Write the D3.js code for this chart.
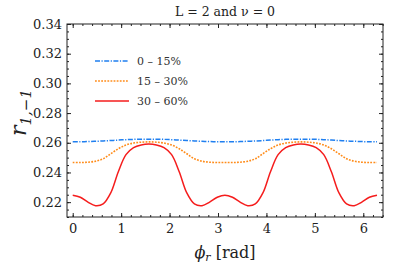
<!DOCTYPE html>
<html>
<head>
<meta charset="utf-8">
<script src="https://cdn.jsdelivr.net/npm/d3@7"></script>
<style>
  body { margin: 0; background: #fff; }
  svg { display: block; font-family: "DejaVu Serif", serif; }
  .axis path { display: none; }
  .axis line { stroke: #222; }
  .axis text { font-size: 13px; fill: #222; font-family: "DejaVu Serif", serif; }
</style>
</head>
<body>
<svg width="407" height="265"></svg>
<script>
// phi_r in rad
var phi = [0, 0.157, 0.314, 0.471, 0.628, 0.785, 0.942, 1.100, 1.257, 1.414, 1.571,
           1.728, 1.885, 2.042, 2.199, 2.356, 2.513, 2.670, 2.827, 2.985, 3.142,
           3.299, 3.456, 3.613, 3.770, 3.927, 4.084, 4.241, 4.398, 4.555, 4.712,
           4.869, 5.027, 5.184, 5.341, 5.498, 5.655, 5.812, 5.969, 6.126, 6.283];

var r0to15 = [0.2607, 0.2607, 0.2608, 0.2610, 0.2612, 0.2615, 0.2618, 0.2621, 0.2623, 0.2624, 0.2624,
              0.2624, 0.2623, 0.2621, 0.2618, 0.2615, 0.2612, 0.2610, 0.2608, 0.2607, 0.2607,
              0.2607, 0.2608, 0.2610, 0.2612, 0.2615, 0.2618, 0.2621, 0.2623, 0.2624, 0.2624,
              0.2624, 0.2623, 0.2621, 0.2618, 0.2615, 0.2612, 0.2610, 0.2608, 0.2607, 0.2607];

var r15to30 = [0.2467, 0.2467, 0.2469, 0.2476, 0.2492, 0.2526, 0.2560, 0.2585, 0.2598, 0.2604, 0.2606,
               0.2604, 0.2598, 0.2585, 0.2560, 0.2526, 0.2492, 0.2476, 0.2469, 0.2467, 0.2467,
               0.2467, 0.2469, 0.2476, 0.2492, 0.2526, 0.2560, 0.2585, 0.2598, 0.2604, 0.2606,
               0.2604, 0.2598, 0.2585, 0.2560, 0.2526, 0.2492, 0.2476, 0.2469, 0.2467, 0.2467];

var r30to60 = [0.2247, 0.2233, 0.2200, 0.2176, 0.2188, 0.2262, 0.2405, 0.2520, 0.2567, 0.2585, 0.2591,
               0.2585, 0.2567, 0.2520, 0.2405, 0.2262, 0.2188, 0.2176, 0.2200, 0.2233, 0.2247,
               0.2233, 0.2200, 0.2176, 0.2188, 0.2262, 0.2405, 0.2520, 0.2567, 0.2585, 0.2591,
               0.2585, 0.2567, 0.2520, 0.2405, 0.2262, 0.2188, 0.2176, 0.2200, 0.2233, 0.2247];

var xTicks = [0, 1, 2, 3, 4, 5, 6];
var yTicks = [0.22, 0.24, 0.26, 0.28, 0.30, 0.32, 0.34];
var seriesNames = ["0 \u2013 15%", "15 \u2013 30%", "30 \u2013 60%"];

var series = [
  { name: seriesNames[0], values: r0to15, color: "#1f7ff0", dash: "5,1.5,1.2,1.5", width: 1.5 },
  { name: seriesNames[1], values: r15to30, color: "#ff8c1a", dash: "1.8,1.3", width: 1.6 },
  { name: seriesNames[2], values: r30to60, color: "#f51d1d", dash: null, width: 1.5 }
];

var margin = {top: 24, right: 24, bottom: 48, left: 67};
var width = 407 - margin.left - margin.right;
var height = 265 - margin.top - margin.bottom;

var svg = d3.select("svg");
var g = svg.append("g")
    .attr("transform", "translate(" + margin.left + "," + margin.top + ")");

var x = d3.scaleLinear().domain([-0.118, 6.407]).range([0, width]);
var y = d3.scaleLinear().domain([0.21, 0.34]).range([height, 0]);

var xMinor = d3.range(0, 6.41, 0.2);
var yMinor = d3.range(0.21, 0.3401, 0.005);

// minor ticks, all four sides
g.append("g").attr("class", "axis").attr("transform", "translate(0," + height + ")")
    .call(d3.axisBottom(x).tickValues(xMinor).tickSize(-2).tickFormat(""));
g.append("g").attr("class", "axis")
    .call(d3.axisTop(x).tickValues(xMinor).tickSize(-2).tickFormat(""));
g.append("g").attr("class", "axis")
    .call(d3.axisLeft(y).tickValues(yMinor).tickSize(-2).tickFormat(""));
g.append("g").attr("class", "axis").attr("transform", "translate(" + width + ",0)")
    .call(d3.axisRight(y).tickValues(yMinor).tickSize(-2).tickFormat(""));

// major ticks
g.append("g").attr("class", "axis").attr("transform", "translate(0," + height + ")")
    .call(d3.axisBottom(x).tickValues(xTicks).tickSize(-4).tickPadding(7).tickFormat(d3.format("d")));
g.append("g").attr("class", "axis")
    .call(d3.axisTop(x).tickValues(xTicks).tickSize(-4).tickFormat(""));
g.append("g").attr("class", "axis")
    .call(d3.axisLeft(y).tickValues(yTicks).tickSize(-4).tickPadding(5).tickFormat(d3.format(".2f")));
g.append("g").attr("class", "axis").attr("transform", "translate(" + width + ",0)")
    .call(d3.axisRight(y).tickValues(yTicks).tickSize(-4).tickFormat(""));

// curves
var line = d3.line()
    .x(function(d) { return x(d[0]); })
    .y(function(d) { return y(d[1]); })
    .curve(d3.curveCatmullRom);

series.forEach(function(s) {
  g.append("path")
      .datum(phi.map(function(p, i) { return [p, s.values[i]]; }))
      .attr("d", line)
      .attr("fill", "none")
      .attr("stroke", s.color)
      .attr("stroke-width", s.width)
      .attr("stroke-dasharray", s.dash);
});

// frame
g.append("rect")
    .attr("width", width).attr("height", height)
    .attr("fill", "none").attr("stroke", "#222").attr("stroke-width", 1);

// legend
var legend = g.append("g").attr("transform", "translate(28,37)");
series.forEach(function(s, i) {
  var row = legend.append("g").attr("transform", "translate(0," + (i * 20) + ")");
  row.append("line")
      .attr("x1", 0).attr("x2", 34)
      .attr("stroke", s.color)
      .attr("stroke-width", s.width)
      .attr("stroke-dasharray", s.dash);
  row.append("text")
      .attr("x", 42).attr("y", 4)
      .attr("font-size", 11)
      .attr("fill", "#333")
      .text(s.name);
});

// title
svg.append("text")
    .attr("x", margin.left + width / 2).attr("y", 16)
    .attr("text-anchor", "middle")
    .attr("font-size", 12.5)
    .attr("fill", "#222")
    .text("L = 2 and \u03bd = 0");

// x label
var xl = svg.append("text")
    .attr("x", margin.left + width / 2).attr("y", 258)
    .attr("text-anchor", "middle")
    .attr("font-size", 16)
    .attr("fill", "#222");
xl.append("tspan").attr("font-style", "italic").text("\u03d5");
xl.append("tspan").attr("font-style", "italic").attr("font-size", 11).attr("dy", 3).text("r");
xl.append("tspan").attr("dy", -3).text(" [rad]");

// y label
var yl = svg.append("text")
    .attr("transform", "translate(26," + (margin.top + height / 2 - 8) + ") rotate(-90)")
    .attr("text-anchor", "middle")
    .attr("font-size", 22)
    .attr("fill", "#222");
yl.append("tspan").attr("font-style", "italic").text("r");
yl.append("tspan").attr("font-style", "italic").attr("font-size", 15).attr("dy", 5).text("1,\u22121");
</script>
</body>
</html>
